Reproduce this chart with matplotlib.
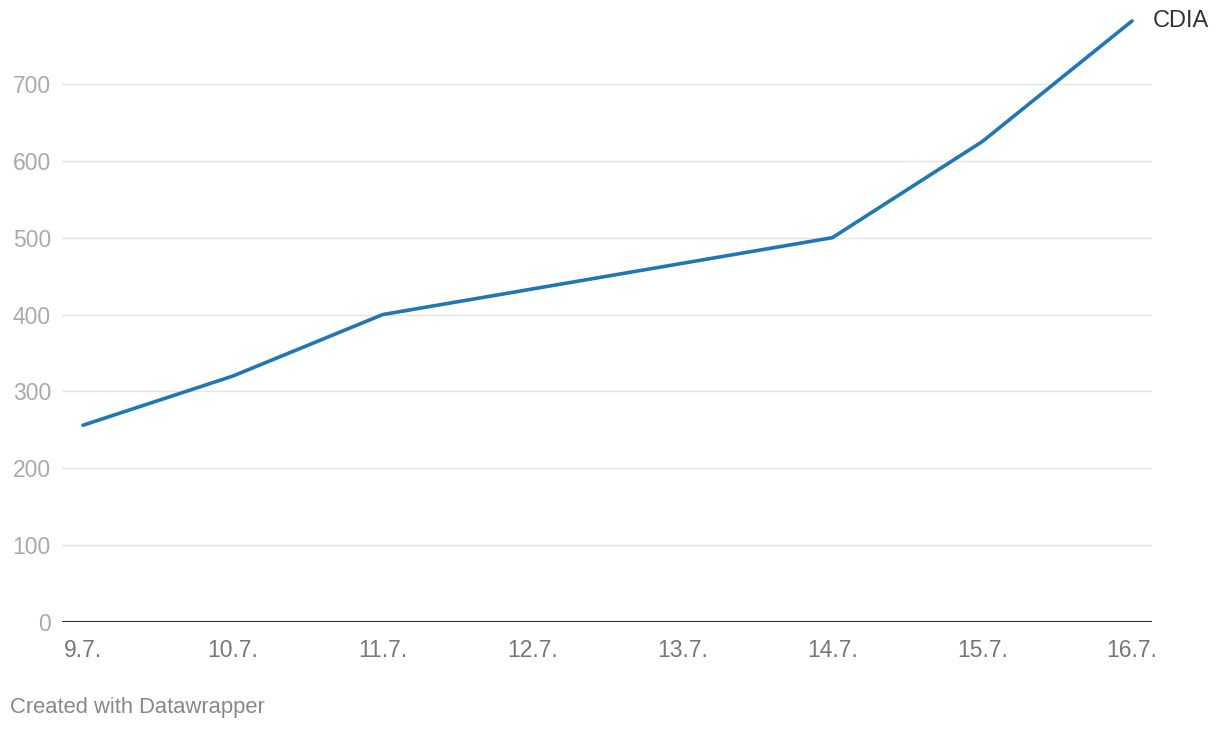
import matplotlib
matplotlib.use("Agg")
import matplotlib.pyplot as plt

plt.rcParams['font.family'] = ['Liberation Sans', 'DejaVu Sans']

# Data (day of July -> value)
days = [9, 10, 11, 14, 15, 16]
values = [256, 320, 400, 500, 625, 782]
series_name = "CDIA"

tick_days = [9, 10, 11, 12, 13, 14, 15, 16]
tick_labels = ["9.7.", "10.7.", "11.7.", "12.7.", "13.7.", "14.7.", "15.7.", "16.7."]
y_ticks = [0, 100, 200, 300, 400, 500, 600, 700]

W, H = 1220, 730
fig = plt.figure(figsize=(W / 100, H / 100), dpi=100)
ax = fig.add_axes([62 / W, 1 - 622 / H, (1152 - 62) / W, (622 - 14.8) / H])

ax.plot(days, values, color='#1f77b4', linewidth=2.6, solid_capstyle='round',
        solid_joinstyle='round', zorder=3)

ax.set_xlim(8.86, 16.133)
ax.set_ylim(0, 790)

# Gridlines
for yv in y_ticks[1:]:
    ax.axhline(yv, color='#e3e3e3', linewidth=1.0, zorder=1)
ax.axhline(0, color='#333333', linewidth=1.5, zorder=2)

for s in ax.spines.values():
    s.set_visible(False)

ax.set_yticks(y_ticks)
ax.set_yticklabels([str(v) for v in y_ticks])
ax.tick_params(axis='y', length=0, pad=8, labelsize=16.5, labelcolor='#aaaaaa')
ax.set_xticks(tick_days)
ax.set_xticklabels(tick_labels)
ax.tick_params(axis='x', length=0, pad=12, labelsize=16.5, labelcolor='#777777')

# Direct line label
ax.annotate(series_name, xy=(days[-1], values[-1]), xytext=(15, 0),
            textcoords='offset points', ha='left', va='center',
            fontsize=17, color='#333333', annotation_clip=False)

fig.text(10 / W, 1 - 708 / H, "Created with Datawrapper", fontsize=15.8,
         color='#888888', ha='left', va='center')

fig.savefig("out.png", dpi=100)
